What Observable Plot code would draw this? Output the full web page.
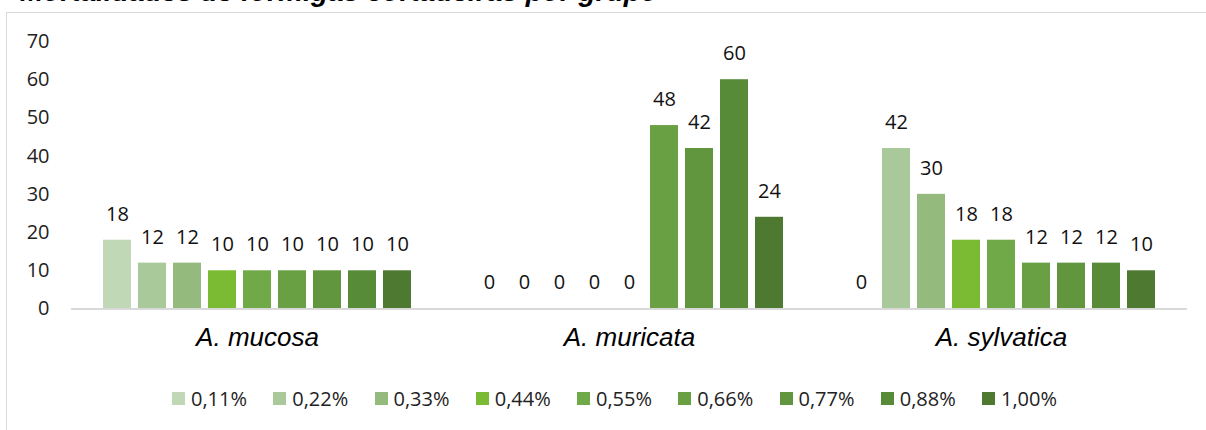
<!DOCTYPE html>
<html>
<head>
<meta charset="utf-8">
<script src="https://cdn.jsdelivr.net/npm/d3@7"></script>
<script src="https://cdn.jsdelivr.net/npm/@observablehq/plot@0.6"></script>
<style>
  html, body { margin: 0; padding: 0; background: #fff; }
  #wrap { position: relative; width: 1206px; height: 430px; overflow: hidden; background: #fff; }
  #title { position: absolute; left: 20px; top: -24px; font: italic bold 28px "Liberation Sans", Arial, sans-serif; color: #000; white-space: nowrap; }
  #frame { position: absolute; left: 6px; top: 12px; width: 1400px; height: 600px; border: 1px solid #d9d9d9; box-sizing: border-box; }
  #chart { position: absolute; left: 0; top: 0; }
  #legend { position: absolute; left: 172px; top: 384px; white-space: nowrap; font: 20px "Open Sans", sans-serif; color: #222; }
  .item { display: inline-flex; align-items: center; width: 101.25px; height: 22px; }
  .sw { display: inline-block; width: 13px; height: 13px; margin-right: 6px; }
</style>
</head>
<body>
<div id="wrap">
  <div id="title">Mortalidades de formigas cortadeiras por grupo</div>
  <div id="frame"></div>
  <div id="chart"></div>
  <div id="legend"></div>
</div>
<script>
const groups = ["A. mucosa", "A. muricata", "A. sylvatica"];
const series = ["0,11%", "0,22%", "0,33%", "0,44%", "0,55%", "0,66%", "0,77%", "0,88%", "1,00%"];
const mucosa = [18, 12, 12, 10, 10, 10, 10, 10, 10];
const muricata = [0, 0, 0, 0, 0, 48, 42, 60, 24];
const sylvatica = [0, 42, 30, 18, 18, 12, 12, 12, 10];
const yTicks = [0, 10, 20, 30, 40, 50, 60, 70];
const colors = ["#c1d8b6", "#aac99b", "#94bb7d", "#7abb33", "#70a948", "#69a044", "#61963f", "#588b38", "#4e7931"];

const valuesByGroup = [mucosa, muricata, sylvatica];
const data = [];
groups.forEach((g, gi) => series.forEach((s, si) => data.push({group: g, series: s, value: valuesByGroup[gi][si]})));

const chart = Plot.plot({
  width: 1206,
  height: 370,
  marginTop: 41,
  marginBottom: 61.5,
  marginLeft: 70,
  marginRight: 18,
  style: {fontFamily: "'Open Sans', sans-serif", fontSize: "20px", color: "#222", background: "transparent"},
  fx: {domain: groups, padding: 0, label: null},
  x: {domain: series, axis: null, paddingInner: 0.2, paddingOuter: 0.88},
  y: {domain: [0, 70], label: null},
  color: {domain: series, range: colors},
  marks: [
    Plot.axisY({ticks: yTicks, tickSize: 0, tickPadding: 22, fontSize: 20, label: null, tickFormat: d => String(d)}),
    Plot.axisFx({anchor: "bottom", tickSize: 0, tickPadding: 19, fontSize: 26, fontStyle: "italic", fontFamily: "'Liberation Sans', Arial, sans-serif", label: null, fill: "#000"}),
    Plot.barY(data, {fx: "group", x: "series", y: "value", fill: "series"}),
    Plot.ruleY([0], {stroke: "#d9d9d9", strokeWidth: 2}),
    Plot.text(data, {fx: "group", x: "series", y: "value", text: d => String(d.value), lineAnchor: "middle", dy: -26, fontSize: 20, fill: "#111"})
  ]
});
document.getElementById("chart").appendChild(chart);

const legend = document.getElementById("legend");
series.forEach((s, i) => {
  const item = document.createElement("span");
  item.className = "item";
  const sw = document.createElement("span");
  sw.className = "sw";
  sw.style.background = colors[i];
  item.appendChild(sw);
  item.appendChild(document.createTextNode(s));
  legend.appendChild(item);
});
</script>
</body>
</html>
